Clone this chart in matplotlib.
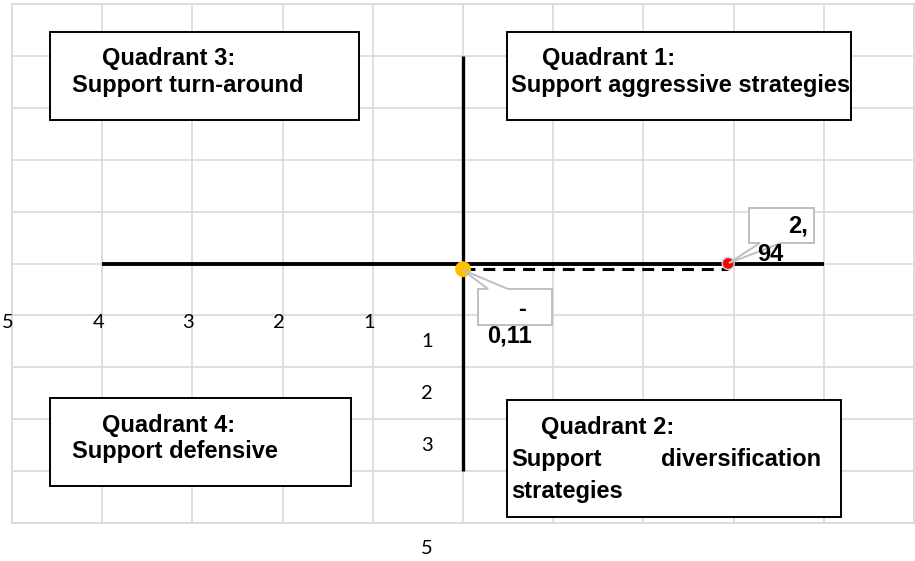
import matplotlib
matplotlib.use("Agg")
import matplotlib.pyplot as plt
from matplotlib.patches import Rectangle, Polygon

# data
x_ticks = [-5, -4, -3, -2, -1]
x_tick_labels = ["5", "4", "3", "2", "1"]
y_ticks = [-1, -2, -3, -5]
y_tick_labels = ["1", "2", "3", "5"]

axis_x = [-4, 4]
axis_y = [4, -4]

point_x = [0, 2.94]
point_y = [-0.11, 0]
point_colors = ["#FFC000", "#FF0000"]

W, H = 915, 561
fig = plt.figure(figsize=(W / 100, H / 100), dpi=100)
ax = fig.add_axes([12 / W, 1 - 523 / H, 902 / W, 519 / H])
ax.set_xlim(-5, 5)
ax.set_ylim(-5, 5)
ax.set_xticks(range(-5, 6))
ax.set_yticks(range(-5, 6))
ax.grid(True, color="#D9D9D9", lw=1.2)
ax.tick_params(length=0, labelbottom=False, labelleft=False)
for s in ax.spines.values():
    s.set_color("#D9D9D9")
    s.set_linewidth(1.2)
ax.set_axisbelow(True)


def P(x, y):
    # pixel position in the image -> figure fraction
    return (x / W, 1 - y / H)


tf = fig.transFigure

# thick axis lines
ax.plot(axis_x, [0, 0], color="black", lw=2.8, solid_capstyle="butt", zorder=3)
ax.plot([0, 0], axis_y, color="black", lw=2.4, solid_capstyle="butt", zorder=3)

# tick labels
lab_font = dict(family=["Lato", "DejaVu Sans"], fontsize=14.5, color="black")
for v, t in zip(x_ticks, x_tick_labels):
    ax.text(v - 0.045, -1.13, t, ha="center", va="center", **lab_font)
for v, t in zip(y_ticks, y_tick_labels):
    ax.text(-0.4, v - 0.5, t, ha="center", va="center", **lab_font)

# dashed connection
ax.plot([point_x[0], point_x[1]], [point_y[0], point_y[0]], color="black", lw=2.2,
        linestyle=(0, (3.9, 2.6)), zorder=4)
ax.scatter(point_x, point_y, s=[130, 75], c=point_colors, edgecolors=["#FFC000", "#D0D0D0"],
           linewidths=[0, 1], zorder=5)

bold = dict(family=["Liberation Sans", "DejaVu Sans"], fontweight="bold", fontsize=17,
            color="black", transform=tf, va="baseline", ha="left", zorder=10)

# quadrant boxes (pixel rects)
boxes = [(50, 32, 359, 120), (507, 32, 851, 120), (50, 398, 351, 486), (507, 400, 841, 517)]
for x0, y0, x1, y1 in boxes:
    fig.patches.append(Rectangle(P(x0, y1), (x1 - x0) / W, (y1 - y0) / H, transform=tf,
                                 facecolor="white", edgecolor="black", lw=1.4, zorder=6))

fig.text(*P(102, 65), "Quadrant 3:", **bold)
fig.text(*P(72, 92), "Support turn-around", **bold)
fig.text(*P(542, 65), "Quadrant 1:", **bold)
fig.text(*P(511, 92), "Support aggressive strategies", **bold)
fig.text(*P(102, 432), "Quadrant 4:", **bold)
fig.text(*P(72, 458), "Support defensive", **bold)
fig.text(*P(541, 434), "Quadrant 2:", **bold)
fig.text(*P(511, 466), "Support", **bold)
fig.text(*P(661, 466), "diversification", **bold)
fig.text(*P(511, 498), "strategies", **bold)

# data label callouts
gray = "#BFBFBF"
fig.patches.append(Polygon([P(749, 208), P(814, 208), P(814, 243), P(781, 243), P(729, 263),
                            P(760, 243), P(749, 243)], closed=True, transform=tf,
                           facecolor="white", edgecolor=gray, lw=1.4, zorder=6))
fig.patches.append(Polygon([P(478, 289), P(488, 289), P(463, 270), P(508, 289), P(552, 289),
                            P(552, 325), P(478, 325)], closed=True, transform=tf,
                           facecolor="white", edgecolor=gray, lw=1.4, zorder=6))
fig.text(*P(788, 233), "2,", **bold)
fig.text(*P(757, 261), "94", **bold)
fig.text(*P(518, 316), "-", **bold)
fig.text(*P(487, 342), "0,11", **bold)

fig.savefig("out.png", dpi=100)
